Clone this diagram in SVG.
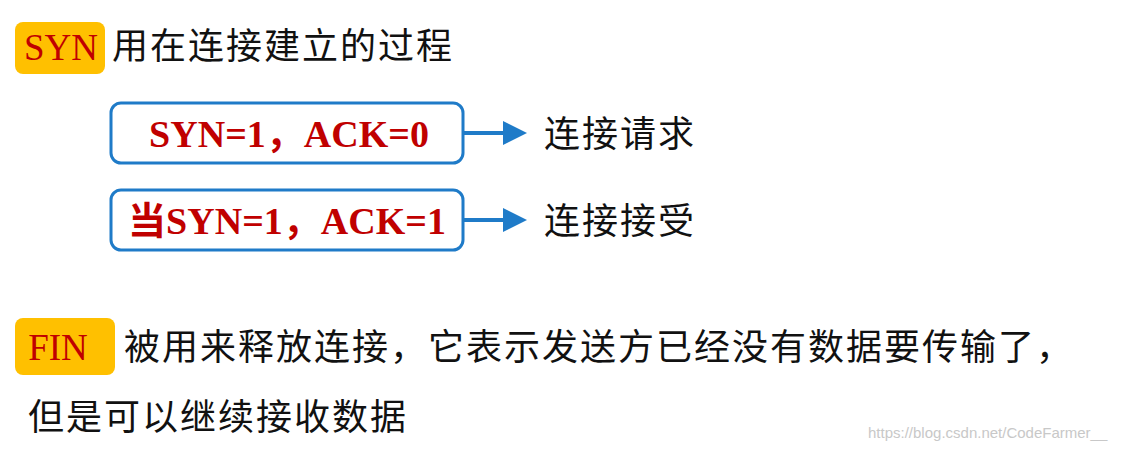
<svg xmlns="http://www.w3.org/2000/svg" width="1128" height="450" viewBox="0 0 1128 450">
<style>
.cn{font-family:"Noto Sans CJK SC","Noto Sans",sans-serif;font-size:36px;letter-spacing:2px;fill:#111}
.tag{fill:#FFC000}
.tagt{font-family:"Liberation Serif",serif;font-size:37px;fill:#C00000}
.box{fill:#fff;stroke:#1F7BC8;stroke-width:3}
.bt{font-family:"Liberation Serif","Noto Sans CJK SC",serif;font-size:38px;font-weight:bold;fill:#C00000}
.conn{stroke:#1F7BC8;stroke-width:4;fill:none}
</style>
<defs><marker id="ah" markerWidth="6" markerHeight="6" refX="5" refY="3" orient="auto" markerUnits="strokeWidth"><path d="M0,0L6,3L0,6z" fill="#1F7BC8"/></marker></defs>
<rect width="1128" height="450" fill="#fff"/>
<g id="syn"><rect class="tag" x="15" y="22" width="90" height="52" rx="8"/><text class="tagt" x="61" y="60" text-anchor="middle">SYN</text></g>
<text class="cn" x="112" y="59">用在连接建立的过程</text>
<g id="b1"><rect class="box" x="111" y="103" width="352" height="60" rx="10"/><text class="bt" x="289" y="147" text-anchor="middle">SYN=1，ACK=0</text></g>
<g id="b2"><rect class="box" x="111" y="190" width="352" height="60" rx="10"/><text class="bt" x="287" y="234" text-anchor="middle">当SYN=1，ACK=1</text></g>
<g id="connectors">
<line class="conn" x1="463" y1="133" x2="523" y2="133" marker-end="url(#ah)"/>
<line class="conn" x1="463" y1="220" x2="523" y2="220" marker-end="url(#ah)"/>
</g>
<text class="cn" x="544" y="147">连接请求</text>
<text class="cn" x="544" y="234">连接接受</text>
<g id="fin"><rect class="tag" x="15" y="318" width="100" height="57" rx="8"/><text class="tagt" x="58" y="360" text-anchor="middle">FIN</text></g>
<text class="cn" x="124" y="360">被用来释放连接，它表示发送方已经没有数据要传输了，</text>
<text class="cn" x="28" y="430">但是可以继续接收数据</text>
<text x="868" y="438" font-family="Liberation Sans,sans-serif" font-size="15" fill="#c8c8c8">https://blog.csdn.net/CodeFarmer__</text>
</svg>
